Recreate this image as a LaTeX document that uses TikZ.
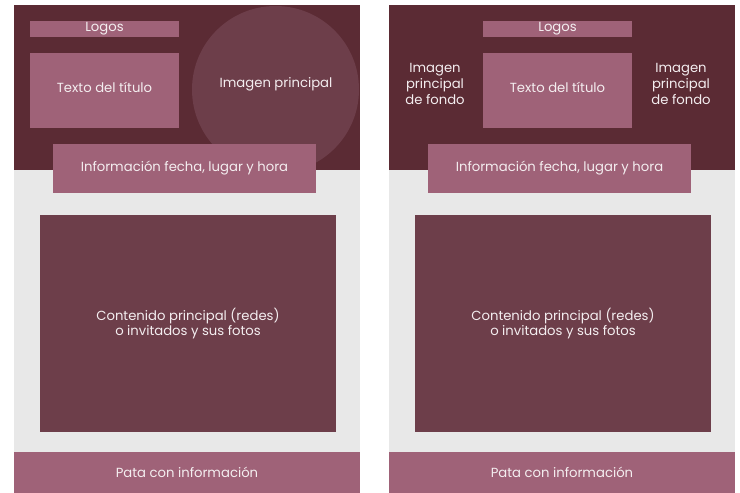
\documentclass[tikz,border=0pt]{standalone}
\usepackage{fontspec}
\setmainfont{Poppins}
\definecolor{vino}{HTML}{5B2B34}
\definecolor{vinoclaro}{HTML}{6D3E4A}
\definecolor{rosa}{HTML}{9F6278}
\definecolor{gris}{HTML}{E8E8E8}
\definecolor{letra}{HTML}{F4EEF0}
\tikzset{
	caja/.style={fill=rosa,text=letra,inner sep=0pt,align=center},
	fondo/.style={fill=vinoclaro,text=letra,inner sep=0pt,align=center},
	texto/.style={text=letra,align=center,inner sep=0pt}
}
\begin{document}
\begin{tikzpicture}[x=1pt,y=-1pt,font=\fontsize{13.2}{15.8}\selectfont]
	\useasboundingbox (0,0) rectangle (740,493);
	% panel izquierdo
	\fill[gris] (14,5) rectangle (360,452);
	\fill[vino] (14,5) rectangle (360,170);
	\begin{scope}
		\clip (14,5) rectangle (360,170);
		\node[circle,fill=vinoclaro,minimum size=167pt,inner sep=0pt] (circ) at (275.5,89.5) {};
	\end{scope}
	\node[texto] (img) at (276,84) {Imagen principal};
	\node[caja,minimum width=149pt,minimum height=16pt] (logos) at (104.5,29) {Logos};
	\node[caja,minimum width=149pt,minimum height=75pt,label={[texto,yshift=3.5pt]center:Texto del título}] (titulo) at (104.5,90.5) {};
	\node[caja,minimum width=263pt,minimum height=49pt] (info) at (184.5,168.5) {Información fecha, lugar y hora};
	\node[fondo,minimum width=296pt,minimum height=217pt] (cont) at (188,323.5) {Contenido principal (redes)\\o invitados y sus fotos};
	\node[caja,minimum width=346pt,minimum height=41pt] (pata) at (187,472.5) {Pata con información};
	% panel derecho
	\fill[gris] (389,5) rectangle (735,452);
	\fill[vino] (389,5) rectangle (735,170);
	\node[texto] (fondoizq) at (435,84) {Imagen\\principal\\de fondo};
	\node[texto] (fondoder) at (681,84) {Imagen\\principal\\de fondo};
	\node[caja,minimum width=149pt,minimum height=16pt] (logos2) at (557.5,29) {Logos};
	\node[caja,minimum width=149pt,minimum height=75pt,label={[texto,yshift=3.5pt]center:Texto del título}] (titulo2) at (557.5,90.5) {};
	\node[caja,minimum width=263pt,minimum height=49pt] (info2) at (559.5,168.5) {Información fecha, lugar y hora};
	\node[fondo,minimum width=296pt,minimum height=217pt] (cont2) at (563,323.5) {Contenido principal (redes)\\o invitados y sus fotos};
	\node[caja,minimum width=346pt,minimum height=41pt] (pata2) at (562,472.5) {Pata con información};
\end{tikzpicture}
\end{document}
